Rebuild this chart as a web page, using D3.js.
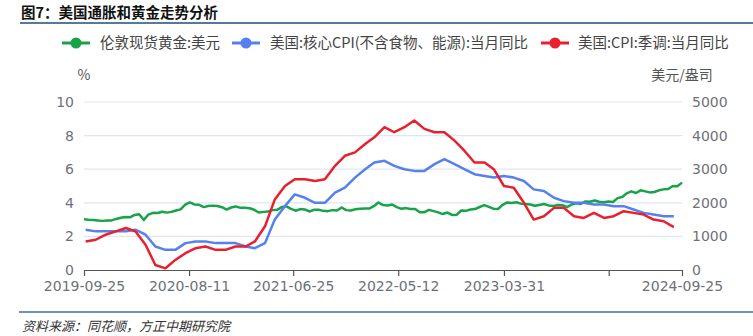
<!DOCTYPE html>
<html>
<head>
<meta charset="utf-8">
<script src="https://cdn.jsdelivr.net/npm/d3@7"></script>
<style>
  html, body { margin: 0; padding: 0; background: #fff; }
  svg { display: block; font-family: "Noto Sans CJK SC", "Noto Sans", sans-serif; }
</style>
</head>
<body>
<svg id="chart" width="753" height="336"></svg>
<script>
// ---- data ----
const startDate = "2019-09-25";
const endDate = "2024-09-25";

// London spot gold, USD/oz, sampled evenly across the date range
const goldValues = [
  1509, 1495, 1490, 1475, 1462, 1470, 1476, 1520, 1556, 1574,
  1568, 1640, 1662, 1490, 1650, 1702, 1698, 1732, 1708, 1730,
  1772, 1805, 1945, 2012, 1950, 1942, 1872, 1902, 1916, 1905,
  1868, 1800, 1860, 1892, 1850, 1852, 1838, 1792, 1710, 1730,
  1742, 1782, 1790, 1872, 1895, 1818, 1765, 1812, 1800, 1742,
  1790, 1792, 1760, 1752, 1782, 1770, 1860, 1782, 1772, 1810,
  1822, 1830, 1828, 1900, 2010, 1932, 1922, 1950, 1870, 1820,
  1842, 1815, 1818, 1720, 1722, 1790, 1752, 1715, 1665, 1710,
  1640, 1642, 1770, 1760, 1800, 1812, 1875, 1930, 1880, 1826,
  1815, 1940, 2010, 1995, 2015, 1975, 1962, 1950, 1910, 1936,
  1965, 1922, 1905, 1932, 1928, 1870, 1950, 1985, 1966, 2040,
  2030, 2068, 2032, 2020, 2036, 2025, 2140, 2172, 2282, 2340,
  2292, 2372, 2340, 2310, 2322, 2372, 2400, 2412, 2500, 2490,
  2600
];

// Monthly series, one value per month from 2019-09 to 2024-08 (%, YoY)
const cpiMonthStart = "2019-09";
const coreCpi = [
  2.4, 2.3, 2.3, 2.3,
  2.3, 2.4, 2.1, 1.4, 1.2, 1.2, 1.6, 1.7, 1.7, 1.6, 1.6, 1.6,
  1.4, 1.3, 1.6, 3.0, 3.8, 4.5, 4.3, 4.0, 4.0, 4.6, 4.9, 5.5,
  6.0, 6.4, 6.5, 6.2, 6.0, 5.9, 5.9, 6.3, 6.6, 6.3, 6.0, 5.7,
  5.6, 5.5, 5.6, 5.5, 5.3, 4.8, 4.7, 4.3, 4.1, 4.0, 4.0, 3.9,
  3.9, 3.8, 3.8, 3.6, 3.4, 3.3, 3.2, 3.2
];
const headlineCpi = [
  1.7, 1.8, 2.1, 2.3,
  2.5, 2.3, 1.5, 0.3, 0.1, 0.6, 1.0, 1.3, 1.4, 1.2, 1.2, 1.4,
  1.4, 1.7, 2.6, 4.2, 5.0, 5.4, 5.4, 5.3, 5.4, 6.2, 6.8, 7.0,
  7.5, 7.9, 8.5, 8.2, 8.5, 8.9, 8.4, 8.2, 8.2, 7.7, 7.1, 6.4,
  6.4, 6.0, 5.0, 4.9, 4.0, 3.0, 3.2, 3.7, 3.7, 3.2, 3.1, 3.4,
  3.1, 3.2, 3.5, 3.4, 3.3, 3.0, 2.9, 2.55
];

const leftTicks = [0, 2, 4, 6, 8, 10];
const rightTicks = [0, 1000, 2000, 3000, 4000, 5000];
const xTickMarks = ["2019-09-25", "2020-08-11", "2021-06-25", "2022-05-12", "2023-03-31", "2024-02-14", "2024-09-25"];
const xTickLabels = ["2019-09-25", "2020-08-11", "2021-06-25", "2022-05-12", "2023-03-31", "2024-09-25"];

const seriesNames = ["伦敦现货黄金:美元", "美国:核心CPI(不含食物、能源):当月同比", "美国:CPI:季调:当月同比"];
const seriesColors = ["#17a347", "#5580ee", "#e8202e"];

// ---- layout ----
const parse = d3.utcParse("%Y-%m-%d");
const parseMonth = d3.utcParse("%Y-%m");
const fmt = d3.utcFormat("%Y-%m-%d");
const plot = { left: 84, right: 682, top: 102, bottom: 270 };
const numFont = "'DejaVu Sans', sans-serif";

const svg = d3.select("#chart");

const x = d3.scaleUtc()
  .domain([parse(startDate), parse(endDate)])
  .range([plot.left, plot.right]);
const yL = d3.scaleLinear().domain([0, 10]).range([plot.bottom, plot.top]);
const yR = d3.scaleLinear().domain([0, 5000]).range([plot.bottom, plot.top]);

// dates for each sampled gold value
const t0 = parse(startDate).getTime(), t1 = parse(endDate).getTime();
const goldData = goldValues.map((v, i) => ({
  date: new Date(t0 + (t1 - t0) * i / (goldValues.length - 1)),
  value: v
}));
// monthly values plotted at month end
const m0 = parseMonth(cpiMonthStart);
const monthEnd = i => d3.utcDay.offset(d3.utcMonth.offset(m0, i + 1), -1);
const coreData = coreCpi.map((v, i) => ({ date: monthEnd(i), value: v }));
const headData = headlineCpi.map((v, i) => ({ date: monthEnd(i), value: v }));

// ---- title ----
svg.append("text")
  .attr("x", 21).attr("y", 18)
  .attr("font-size", 14.5).attr("font-weight", "bold").attr("fill", "#111")
  .text("图7：美国通胀和黄金走势分析");
svg.append("line")
  .attr("x1", 20).attr("x2", 753).attr("y1", 23).attr("y2", 23)
  .attr("stroke", "#1f4e79").attr("stroke-width", 1.5);

// ---- legend ----
const legendPos = [{ sx: 62, tx: 100 }, { sx: 232, tx: 270 }, { sx: 541, tx: 578 }];
const legend = svg.append("g");
seriesNames.forEach((name, i) => {
  const g = legend.append("g");
  const p = legendPos[i];
  g.append("line")
    .attr("x1", p.sx).attr("x2", p.sx + 28).attr("y1", 43).attr("y2", 43)
    .attr("stroke", seriesColors[i]).attr("stroke-width", 3);
  g.append("circle")
    .attr("cx", p.sx + 14).attr("cy", 43).attr("r", 5.5)
    .attr("fill", seriesColors[i]);
  g.append("text")
    .attr("x", p.tx).attr("y", 43).attr("dy", "0.36em")
    .attr("font-size", 14.5).attr("fill", "#444")
    .text(name);
});

// ---- grid ----
svg.append("g")
  .selectAll("line")
  .data(leftTicks.filter(d => d > 0))
  .join("line")
  .attr("x1", plot.left).attr("x2", plot.right)
  .attr("y1", d => yL(d)).attr("y2", d => yL(d))
  .attr("stroke", "#e0e6f1").attr("stroke-width", 1.2);

// ---- axes ----
const axisColor = "#6e7079";
const leftAxis = svg.append("g")
  .attr("transform", `translate(${plot.left - 10},0)`)
  .call(d3.axisLeft(yL).tickValues(leftTicks).tickSize(0).tickPadding(0));
leftAxis.select(".domain").remove();
leftAxis.selectAll("text")
  .attr("font-size", 14).attr("fill", axisColor)
  .attr("font-family", numFont);

const rightAxis = svg.append("g")
  .attr("transform", `translate(${plot.right + 10},0)`)
  .call(d3.axisRight(yR).tickValues(rightTicks).tickFormat(d3.format("d")).tickSize(0).tickPadding(0));
rightAxis.select(".domain").remove();
rightAxis.selectAll("text")
  .attr("font-size", 14).attr("fill", axisColor)
  .attr("font-family", numFont);

svg.append("text")
  .attr("x", plot.left).attr("y", 75).attr("dy", "0.36em")
  .attr("text-anchor", "middle")
  .attr("font-size", 14).attr("fill", "#555")
  .text("%");
svg.append("text")
  .attr("x", plot.right).attr("y", 75).attr("dy", "0.36em")
  .attr("text-anchor", "middle")
  .attr("font-size", 14).attr("fill", "#555")
  .text("美元/盎司");

// bottom axis: tick marks on all dates, labels on selected ones
const bottomAxis = svg.append("g")
  .attr("transform", `translate(0,${plot.bottom})`)
  .call(d3.axisBottom(x)
    .tickValues(xTickMarks.map(parse))
    .tickSize(6)
    .tickSizeOuter(0)
    .tickPadding(5)
    .tickFormat(d => xTickLabels.includes(fmt(d)) ? fmt(d) : ""));
bottomAxis.select(".domain").attr("stroke", "#555").attr("stroke-width", 1.2);
bottomAxis.selectAll(".tick line").attr("stroke", "#555").attr("stroke-width", 1.2);
bottomAxis.selectAll("text")
  .attr("font-size", 14).attr("fill", axisColor)
  .attr("font-family", numFont);

// ---- lines ----
const lineL = d3.line().x(d => x(d.date)).y(d => yL(d.value));
const lineR = d3.line().x(d => x(d.date)).y(d => yR(d.value));

svg.append("path").datum(goldData)
  .attr("d", lineR).attr("fill", "none")
  .attr("stroke", seriesColors[0]).attr("stroke-width", 2.5)
  .attr("stroke-linejoin", "round");
svg.append("path").datum(coreData)
  .attr("d", lineL).attr("fill", "none")
  .attr("stroke", seriesColors[1]).attr("stroke-width", 2.5)
  .attr("stroke-linejoin", "round");
svg.append("path").datum(headData)
  .attr("d", lineL).attr("fill", "none")
  .attr("stroke", seriesColors[2]).attr("stroke-width", 2.5)
  .attr("stroke-linejoin", "round");

// ---- footer ----
svg.append("line")
  .attr("x1", 19).attr("x2", 753).attr("y1", 312).attr("y2", 312)
  .attr("stroke", "#3c6e9c").attr("stroke-width", 1.5);
svg.append("text")
  .attr("x", 22).attr("y", 331)
  .attr("font-size", 13).attr("font-style", "italic").attr("fill", "#333")
  .text("资料来源：同花顺，方正中期研究院");
</script>
</body>
</html>
